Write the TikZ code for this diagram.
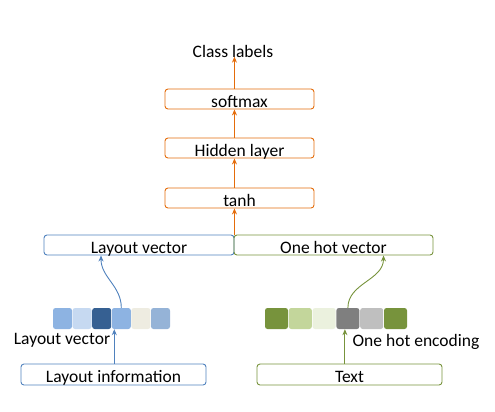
\documentclass[tikz,border=0pt]{standalone}
\usepackage{fontspec}
\setmainfont{Carlito}
\usetikzlibrary{arrows.meta}
\definecolor{orn}{HTML}{E46C0A}
\definecolor{blu}{HTML}{4F81BD}
\definecolor{grn}{HTML}{77933C}
\definecolor{lb1}{HTML}{8DB3E2}
\definecolor{lb2}{HTML}{C6D9F1}
\definecolor{lb3}{HTML}{366092}
\definecolor{lb5}{HTML}{EEECE1}
\definecolor{lb6}{HTML}{95B3D7}
\definecolor{gr2}{HTML}{C3D69B}
\definecolor{gr3}{HTML}{EBF1DE}
\definecolor{gy1}{HTML}{7F7F7F}
\definecolor{gy2}{HTML}{BFBFBF}
\begin{document}
\begin{tikzpicture}[x=1bp,y=-1bp,
  font=\fontsize{17.5bp}{21bp}\selectfont,
  box/.style={draw,rounded corners=3bp,line width=0.9bp,minimum height=20bp,inner sep=0pt,text height=16bp,text depth=0bp},
  obox/.style={box,draw=orn,minimum width=149bp},
  lsq/.style={rounded corners=2.5bp,minimum width=19bp,minimum height=21bp,inner sep=0pt},
  rsq/.style={rounded corners=2.5bp,minimum width=23bp,minimum height=21bp,inner sep=0pt},
  arr/.style={line width=0.9bp,-{Stealth[length=6bp,width=5bp]}}]
\useasboundingbox (0,0) rectangle (495,411);
% orange stack
\node[obox] (soft) at (239.5,99) {softmax};
\node[obox] (hid) at (239.5,148) {Hidden layer};
\node[obox] (tanh) at (239.5,198) {tanh};
\node (cls) at (233,51) {Class labels};
% vector boxes
\node[box,draw=blu,minimum width=190bp] (lv) at (139,245) {Layout vector};
\node[box,draw=grn,minimum width=199bp] (ohv) at (333.5,245) {One hot vector};
% bottom boxes
\node[box,draw=blu,minimum width=185bp,minimum height=21bp] (linfo) at (113.5,374.5) {Layout information};
\node[box,draw=grn,minimum width=185bp,minimum height=21bp] (txt) at (349.5,374.5) {Text};
% squares
\node[lsq,fill=lb1] (l1) at (62.5,318.5) {};
\node[lsq,fill=lb2] (l2) at (82.1,318.5) {};
\node[lsq,fill=lb3] (l3) at (101.7,318.5) {};
\node[lsq,fill=lb1] (l4) at (121.3,318.5) {};
\node[lsq,fill=lb5] (l5) at (140.9,318.5) {};
\node[lsq,fill=lb6] (l6) at (160.5,318.5) {};
\node[rsq,fill=grn] (r1) at (276.5,318.5) {};
\node[rsq,fill=gr2] (r2) at (300.3,318.5) {};
\node[rsq,fill=gr3] (r3) at (324.1,318.5) {};
\node[rsq,fill=gy1] (r4) at (347.9,318.5) {};
\node[rsq,fill=gy2] (r5) at (371.7,318.5) {};
\node[rsq,fill=grn] (r6) at (395.5,318.5) {};
% labels
\node (lvlab) at (62,340) {Layout vector};
\node (ohe) at (416,342) {One hot encoding};
% orange arrows
\coordinate (j) at (lv.north east);
\draw[arr,draw=orn] (j) -- (j |- tanh.south);
\draw[arr,draw=orn] (j |- tanh.north) -- (j |- hid.south);
\draw[arr,draw=orn] (j |- hid.north) -- (j |- soft.south);
\draw[arr,draw=orn] (j |- soft.north) -- ([yshift=4bp]j |- cls.south);
% blue arrows
\draw[arr,draw=blu] ([xshift=-7bp]l4.south |- linfo.north) -- ([xshift=-7bp]l4.south);
\draw[arr,draw=blu] (l4.north) to[out=90,in=-90] ([xshift=-38bp]lv.south);
% green arrows
\draw[arr,draw=grn] ([xshift=-3bp]r4.south |- txt.north) -- ([xshift=-3bp]r4.south);
\draw[arr,draw=grn] (r4.north) to[out=90,in=-90] ([xshift=50bp]ohv.south);
\end{tikzpicture}
\end{document}
